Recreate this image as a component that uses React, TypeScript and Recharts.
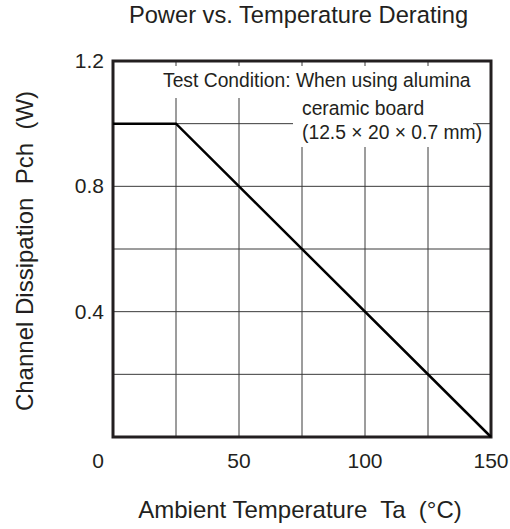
import React from "react";
import {
  LineChart, Line, XAxis, YAxis, CartesianGrid,
  ReferenceArea, Customized,
} from "recharts";

const temps = [0, 25, 150];
const power = [1.0, 1.0, 0];
const xTicks = [0, 25, 50, 75, 100, 125, 150];
const yTicks = [0, 0.2, 0.4, 0.6, 0.8, 1.0, 1.2];
const xLabeled = [0, 50, 100, 150];
const yLabeled = [0.4, 0.8, 1.2];

const data = temps.map((t, i) => ({ ta: t, pch: power[i] }));

const FONT = "'Liberation Sans', Arial, Helvetica, sans-serif";
const INK = "#231f20";

const XTick = (props: any) => {
  const { x, y, payload } = props;
  if (!xLabeled.includes(payload.value)) return null;
  const dx = payload.value === 0 ? -15 : 0;
  return (
    <text x={x + dx} y={y + 23} textAnchor="middle" fontSize={21} fill={INK} fontFamily={FONT}>
      {payload.value}
    </text>
  );
};

const YTick = (props: any) => {
  const { x, y, payload } = props;
  const v = Math.round(payload.value * 10) / 10;
  if (!yLabeled.includes(v)) return null;
  return (
    <text x={x - 1} y={y + 7} textAnchor="end" fontSize={21} fill={INK} fontFamily={FONT}>
      {v.toFixed(1)}
    </text>
  );
};

const Texts = () => (
  <g fontFamily={FONT} fill={INK}>
    <text x={298.5} y={23} textAnchor="middle" fontSize={23.7}>
      Power vs. Temperature Derating
    </text>
    <text x={300} y={518} textAnchor="middle" fontSize={24} style={{ whiteSpace: "pre" }}>
      {"Ambient Temperature  Ta  (°C)"}
    </text>
    <text
      x={0} y={0} textAnchor="middle" fontSize={24}
      transform="translate(33,251) rotate(-90)"
      style={{ whiteSpace: "pre" }}
    >
      {"Channel Dissipation  Pch  (W)"}
    </text>
  </g>
);

const Note = () => (
  <g fontFamily={FONT} fill={INK}>
    <rect x={158} y={66} width={317} height={32} fill="#fff" />
    <rect x={293} y={98} width={180} height={49} fill="#fff" />
    <text x={163} y={87} fontSize={19.3}>Test Condition: When using alumina</text>
    <text x={302} y={115} fontSize={19.3}>ceramic board</text>
    <text x={302} y={139} fontSize={19.3}>(12.5 × 20 × 0.7 mm)</text>
  </g>
);

export default function App() {
  return (
    <div style={{ position: "absolute", left: 0, top: 0, background: "#fff" }}>
      <LineChart
        width={510}
        height={529}
        data={data}
        margin={{ top: 61, right: 19, left: 0, bottom: 62 }}
      >
        <CartesianGrid stroke="#3a3a3a" strokeWidth={1} />
        <XAxis
          dataKey="ta"
          type="number"
          domain={[0, 150]}
          ticks={xTicks}
          tick={<XTick />}
          tickLine={false}
          axisLine={false}
          height={30}
        />
        <YAxis
          type="number"
          domain={[0, 1.2]}
          ticks={yTicks}
          tick={<YTick />}
          tickLine={false}
          axisLine={false}
          width={113}
        />
        <Customized component={Note} />
        <Line
          dataKey="pch"
          type="linear"
          stroke="#000"
          strokeWidth={2.5}
          dot={false}
          isAnimationActive={false}
        />
        <ReferenceArea
          x1={0} x2={150} y1={0} y2={1.2}
          fill="none" stroke={INK} strokeWidth={3} fillOpacity={0}
        />
        <Customized component={Texts} />
      </LineChart>
    </div>
  );
}
